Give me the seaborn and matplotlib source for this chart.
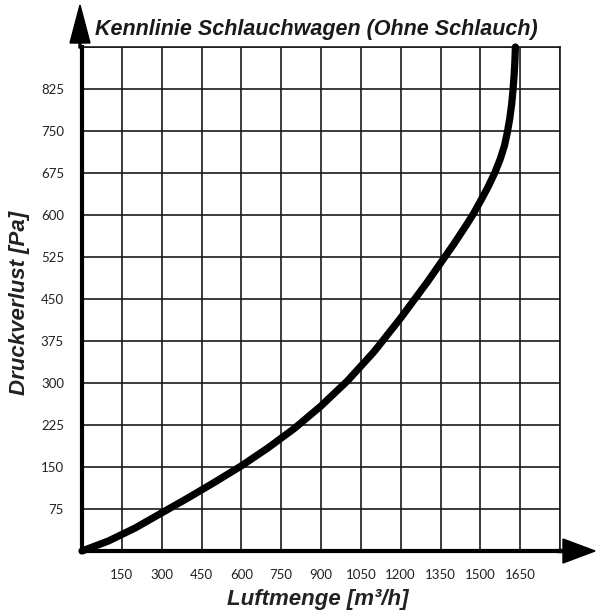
import seaborn as sns
import matplotlib.pyplot as plt
from matplotlib.patches import Polygon
import pandas as pd

luftmenge = [0, 100, 200, 300, 400, 500, 600, 700, 800, 900, 1000, 1100, 1200, 1300, 1400,
             1450, 1475, 1503, 1530, 1555, 1575, 1591, 1602, 1611, 1618, 1623, 1627, 1630, 1632]
druckverlust = [0, 18, 41, 68, 95, 123, 152, 184, 219, 259, 304, 356, 416, 480, 548,
                584, 603, 627, 651, 676, 700, 724, 748, 773, 798, 823, 848, 873, 900]

x_ticks = list(range(0, 1801, 150))
y_ticks = list(range(0, 901, 75))
x_labels = ['' if v in (0, 1800) else str(v) for v in x_ticks]
y_labels = ['' if v in (0, 900) else str(v) for v in y_ticks]

title = 'Kennlinie Schlauchwagen (Ohne Schlauch)'
x_title = 'Luftmenge [m³/h]'
y_title = 'Druckverlust [Pa]'

df = pd.DataFrame({'Luftmenge': luftmenge, 'Druckverlust': druckverlust})

sns.set_style('white')
plt.rcParams['font.family'] = ['Liberation Sans', 'DejaVu Sans']

W, H = 596, 615
fig = plt.figure(figsize=(W / 100, H / 100), dpi=100)
ax = fig.add_axes([82 / W, 1 - 551 / H, (560 - 82) / W, (551 - 47) / H])

sns.lineplot(data=df, x='Luftmenge', y='Druckverlust', ax=ax, color='black',
             linewidth=5.2, solid_capstyle='round', solid_joinstyle='round',
             estimator=None, sort=False, zorder=5, clip_on=False)

ax.set_xlim(0, 1800)
ax.set_ylim(0, 900)
ax.set_xticks(x_ticks)
ax.set_yticks(y_ticks)
ax.set_xticklabels(x_labels, fontfamily='Lato', fontsize=9.5, color='#222')
ax.set_yticklabels(y_labels, fontfamily='Lato', fontsize=9.5, color='#222')
ax.tick_params(length=0)
ax.tick_params(axis='x', pad=13)
ax.tick_params(axis='y', pad=13)
ax.grid(True, color='#1a1a1a', linewidth=1.2)

for side in ['left', 'bottom']:
    ax.spines[side].set_linewidth(3.0)
    ax.spines[side].set_color('black')
    ax.spines[side].set_zorder(6)
for side in ['top', 'right']:
    ax.spines[side].set_linewidth(1.2)
    ax.spines[side].set_color('#1a1a1a')

ax.set_xlabel('')
ax.set_ylabel('')

# arrow heads at the axis ends
def px(x, y):
    return (x / W, 1 - y / H)

fig.patches.append(Polygon([px(79, 48), px(79, 43), px(70, 43), px(80, 5), px(90, 43), px(81, 43), px(81, 48)],
                           closed=True, transform=fig.transFigure, color='black'))
fig.patches.append(Polygon([px(558, 549.5), px(563, 549.5), px(563, 539), px(595, 551), px(563, 563),
                            px(563, 552.5), px(558, 552.5)],
                           closed=True, transform=fig.transFigure, color='black'))

fig.text(316 / W, 1 - 29 / H, title, ha='center', va='center', fontsize=15.5,
         fontweight='bold', fontstyle='italic', color='#1a1a1a')
fig.text(318 / W, 1 - 600 / H, x_title, ha='center', va='center', fontsize=16,
         fontweight='bold', fontstyle='italic', color='#222')
fig.text(20 / W, 1 - 303 / H, y_title, ha='center', va='center', fontsize=16,
         fontweight='bold', fontstyle='italic', rotation=90, color='#222')

fig.savefig('out.png', dpi=100)
